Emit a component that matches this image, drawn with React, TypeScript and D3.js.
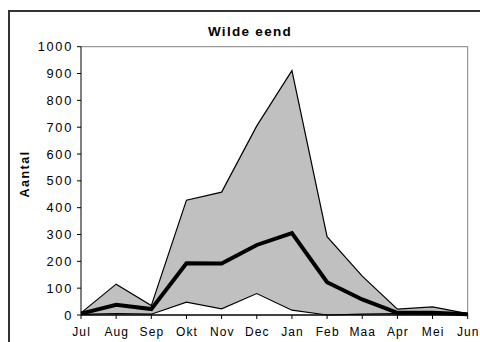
import React from "react";
import * as d3 from "d3";

const months = ["Jul", "Aug", "Sep", "Okt", "Nov", "Dec", "Jan", "Feb", "Maa", "Apr", "Mei", "Jun"];
const maxValues = [8, 115, 35, 428, 458, 705, 911, 292, 145, 22, 30, 5];
const meanValues = [5, 38, 22, 193, 192, 261, 305, 122, 58, 8, 8, 3];
const minValues = [2, 5, 3, 48, 23, 80, 18, 0, 3, 5, 3, 3];
const yTicks = [0, 100, 200, 300, 400, 500, 600, 700, 800, 900, 1000];
const title = "Wilde eend";
const yTitle = "Aantal";

export default function App() {
  const W = 480, H = 342;
  const left = 81, right = 467.7, top = 46.7, bottom = 315;
  const x = d3.scalePoint<string>().domain(months).range([left, right]);
  const y = d3.scaleLinear().domain([0, 1000]).range([bottom, top]);
  const idx = months.map((_, i) => i);
  const area = d3.area<number>()
    .x((i) => x(months[i])!)
    .y0((i) => y(minValues[i]))
    .y1((i) => y(maxValues[i]));
  const line = (vals: number[]) =>
    d3.line<number>().x((i) => x(months[i])!).y((i) => y(vals[i]))(idx)!;
  const font = "Arial, 'Liberation Sans', Helvetica, sans-serif";
  return (
    <svg width={W} height={H} style={{ position: "absolute", left: 0, top: 0, background: "#fff" }} fontFamily={font}>
      <rect x={9} y={11} width={480} height={340} fill="#fff" stroke="#333" strokeWidth={2} />
      <text x={250} y={36} textAnchor="middle" fontWeight="bold" fontSize={13.5} letterSpacing={1.3}>{title}</text>
      <path d={`M${left},${top}H${right}V${bottom}`} fill="none" stroke="#808080" strokeWidth={1} />
      <path d={area(idx)!} fill="#c0c0c0" stroke="none" />
      <path d={line(maxValues)} fill="none" stroke="#000" strokeWidth={1.2} />
      <path d={line(minValues)} fill="none" stroke="#000" strokeWidth={1.2} />
      <path d={line(meanValues)} fill="none" stroke="#000" strokeWidth={4} strokeLinejoin="miter" />
      <line x1={left} x2={left} y1={top} y2={bottom} stroke="#000" strokeWidth={1} />
      <line x1={left} x2={right} y1={bottom} y2={bottom} stroke="#000" strokeWidth={1.5} />
      {yTicks.map((t) => (
        <g key={t}>
          <line x1={left - 4} x2={left} y1={y(t)} y2={y(t)} stroke="#000" />
          <text x={left - 8} y={y(t) + 4.6} textAnchor="end" fontSize={12.8} letterSpacing={1.7}>{t}</text>
        </g>
      ))}
      {months.map((m) => (
        <g key={m}>
          <line x1={x(m)!} x2={x(m)!} y1={bottom} y2={bottom + 4} stroke="#000" />
          <text x={x(m)! + 0.6} y={336} textAnchor="middle" fontSize={12} letterSpacing={1.1}>{m}</text>
        </g>
      ))}
      <text transform={`translate(29,174) rotate(-90)`} textAnchor="middle" fontWeight="bold" fontSize={12.5} letterSpacing={1.5}>{yTitle}</text>
    </svg>
  );
}
